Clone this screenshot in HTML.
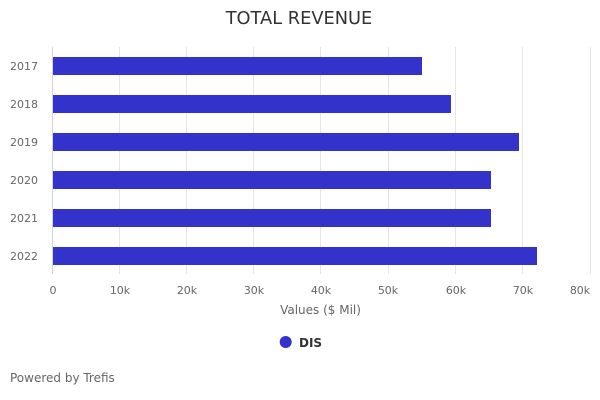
<!DOCTYPE html>
<html><head><meta charset="utf-8"><style>
html,body{margin:0;padding:0;background:#fff;}
svg{display:block;font-family:"DejaVu Sans","Liberation Sans",sans-serif;}
</style></head><body>
<svg width="600" height="400" viewBox="0 0 600 400" xmlns="http://www.w3.org/2000/svg">
<rect width="600" height="400" fill="#fff"/>
<text x="299" y="24" text-anchor="middle" font-size="17.8" fill="#333">TOTAL REVENUE</text>
<g stroke="#e6e6e6" stroke-width="1">
<line x1="119.5" y1="47" x2="119.5" y2="274"/>
<line x1="186.5" y1="47" x2="186.5" y2="274"/>
<line x1="253.5" y1="47" x2="253.5" y2="274"/>
<line x1="320.5" y1="47" x2="320.5" y2="274"/>
<line x1="388.5" y1="47" x2="388.5" y2="274"/>
<line x1="455.5" y1="47" x2="455.5" y2="274"/>
<line x1="522.5" y1="47" x2="522.5" y2="274"/>
<line x1="590.5" y1="47" x2="590.5" y2="274"/>
</g>
<line x1="52.5" y1="47" x2="52.5" y2="274" stroke="#ccd6eb" stroke-width="1"/>
<g fill="#3333cc">
<rect x="53" y="57" width="369" height="18"/>
<rect x="53" y="95" width="398" height="18"/>
<rect x="53" y="133" width="466" height="18"/>
<rect x="53" y="171" width="438" height="18"/>
<rect x="53" y="209" width="438" height="18"/>
<rect x="53" y="247" width="484" height="18"/>
</g>
<g font-size="11" fill="#666" text-anchor="end">
<text x="38" y="70">2017</text>
<text x="38" y="108">2018</text>
<text x="38" y="146">2019</text>
<text x="38" y="184">2020</text>
<text x="38" y="222">2021</text>
<text x="38" y="260">2022</text>
</g>
<g font-size="11" fill="#666" text-anchor="middle">
<text x="53" y="294">0</text>
<text x="120" y="294">10k</text>
<text x="187" y="294">20k</text>
<text x="254" y="294">30k</text>
<text x="321" y="294">40k</text>
<text x="388" y="294">50k</text>
<text x="456" y="294">60k</text>
<text x="523" y="294">70k</text>
<text x="580" y="294">80k</text>
</g>
<text x="320.5" y="314" text-anchor="middle" font-size="12" fill="#666">Values ($ Mil)</text>
<circle cx="285.7" cy="342" r="6" fill="#3333cc"/>
<text x="299" y="347" font-size="12" font-weight="bold" fill="#333">DIS</text>
<text x="10" y="382" font-size="12" fill="#666">Powered by Trefis</text>
</svg>
</body></html>
